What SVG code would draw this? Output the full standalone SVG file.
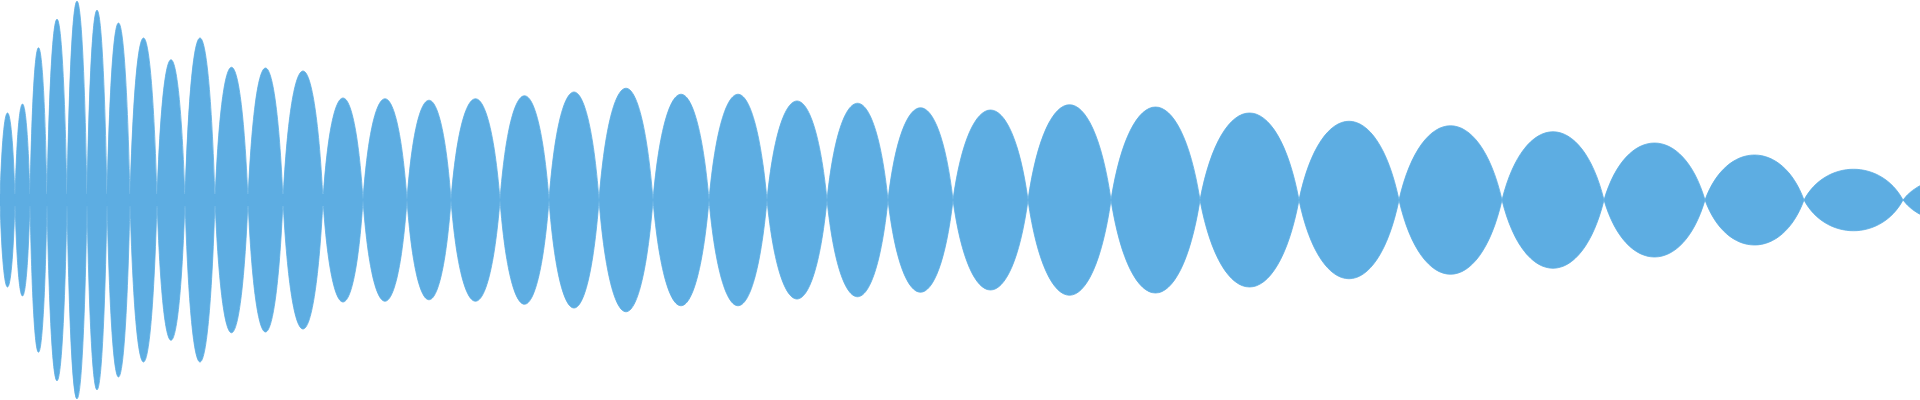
<svg xmlns="http://www.w3.org/2000/svg" width="1920" height="400" viewBox="0 0 1920 400">
<style>.w{fill:#5DADE2;stroke:#5DADE2;stroke-width:0.8}</style>
<rect width="1920" height="400" fill="#ffffff"/>
<g id="waveform">
<rect class="w" x="0" y="194" width="360" height="12" style="stroke:none"/>
<path class="w" d="
M0,200 C3.3,84 11.7,84 15,200 C11.7,316 3.3,316 0,200 Z
M15,200 C18.3,72 26.7,72 30,200 C26.7,328 18.3,328 15,200 Z
M30,200 C33.7,-3 43.3,-3 47,200 C43.3,403 33.7,403 30,200 Z
M47,200 C51.4,-41 62.6,-41 67,200 C62.6,441 51.4,441 47,200 Z
M67,200 C71.4,-65 82.6,-65 87,200 C82.6,465 71.4,465 67,200 Z
M87,200 C91.4,-53 102.6,-53 107,200 C102.6,453 91.4,453 87,200 Z
M107,200 C112.1,-36 124.9,-36 130,200 C124.9,436 112.1,436 107,200 Z
M130,200 C135.9,-16 151.1,-16 157,200 C151.1,416 135.9,416 130,200 Z
M157,200 C163.2,13 178.8,13 185,200 C178.8,387 163.2,387 157,200 Z
M185,200 C191.6,-16 208.4,-16 215,200 C208.4,416 191.6,416 185,200 Z
M215,200 C222.3,23 240.7,23 248,200 C240.7,377 222.3,377 215,200 Z
M248,200 C255.7,24 275.3,24 283,200 C275.3,376 255.7,376 248,200 Z
M283,200 C291.8,28 314.2,28 323,200 C314.2,372 291.8,372 283,200 Z
M323,200 C331.8,64 354.2,64 363,200 C354.2,336 331.8,336 323,200 Z
M363,200 C372.7,65 397.3,65 407,200 C397.3,335 372.7,335 363,200 Z
M407,200 C416.7,67 441.3,67 451,200 C441.3,333 416.7,333 407,200 Z
M451,200 C461.8,65 489.2,65 500,200 C489.2,335 461.8,335 451,200 Z
M500,200 C510.8,61 538.2,61 549,200 C538.2,339 510.8,339 500,200 Z
M549,200 C560,56 588,56 599,200 C588,344 560,344 549,200 Z
M599,200 C610.9,51 641.1,51 653,200 C641.1,349 610.9,349 599,200 Z
M653,200 C665.3,59 696.7,59 709,200 C696.7,341 665.3,341 653,200 Z
M709,200 C721.8,59 754.2,59 767,200 C754.2,341 721.8,341 709,200 Z
M767,200 C780.2,68 813.8,68 827,200 C813.8,332 780.2,332 767,200 Z
M827,200 C840.4,71 874.6,71 888,200 C874.6,329 840.4,329 827,200 Z
M888,200 C902.3,77 938.7,77 953,200 C938.7,323 902.3,323 888,200 Z
M953,200 C969.5,80 1011.5,80 1028,200 C1011.5,320 969.5,320 953,200 Z
M1028,200 C1046.3,73 1092.7,73 1111,200 C1092.7,327 1046.3,327 1028,200 Z
M1111,200 C1130.6,76 1180.4,76 1200,200 C1180.4,324 1130.6,324 1111,200 Z
M1200,200 C1221.8,84 1277.2,84 1299,200 C1277.2,316 1221.8,316 1200,200 Z
M1299,200 C1321,95 1377,95 1399,200 C1377,305 1321,305 1299,200 Z
M1399,200 C1421.7,101 1479.3,101 1502,200 C1479.3,299 1421.7,299 1399,200 Z
M1502,200 C1524.4,109 1581.6,109 1604,200 C1581.6,291 1524.4,291 1502,200 Z
M1604,200 C1626.2,124 1682.8,124 1705,200 C1682.8,276 1626.2,276 1604,200 Z
M1705,200 C1726.8,140 1782.2,140 1804,200 C1782.2,260 1726.8,260 1705,200 Z
M1804,200 C1825.8,159 1881.2,159 1903,200 C1881.2,241 1825.8,241 1804,200 Z
M1903,200 C1924.3,171 1978.7,171 2000,200 C1978.7,229 1924.3,229 1903,200 Z"/>
</g>
</svg>
